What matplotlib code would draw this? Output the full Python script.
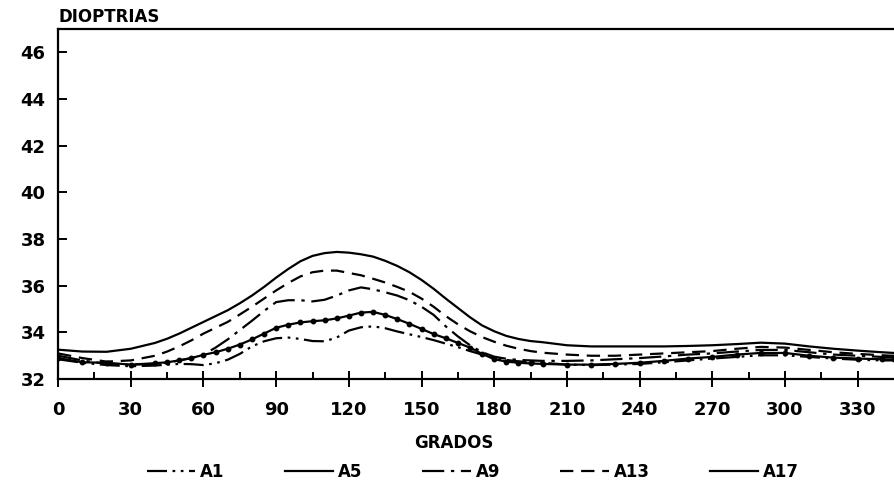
import numpy as np
import matplotlib
matplotlib.use('Agg')
import matplotlib.pyplot as plt
from matplotlib.lines import Line2D

# Degrees around the meridian: 10 deg steps on the flat parts, 5 deg on the hump
grados = [0, 10, 20, 30, 40, 45, 50, 55, 60, 65, 70, 75, 80, 85, 90, 95, 100,
          105, 110, 115, 120, 125, 130, 135, 140, 145, 150, 155, 160, 165, 170,
          175, 180, 185, 190, 195, 200, 210, 220, 230, 240, 250, 260, 270, 280,
          290, 300, 310, 320, 330, 340, 345]

a1 = [32.85, 32.70, 32.60, 32.55,
      32.58, 32.62, 32.65, 32.64, 32.60, 32.68, 32.83, 33.08, 33.40, 33.62,
      33.75, 33.78, 33.72, 33.63, 33.62, 33.78, 34.08, 34.22, 34.26, 34.18,
      34.04, 33.92, 33.80, 33.67, 33.52, 33.37, 33.20, 33.05, 32.91, 32.82,
      32.76, 32.73, 32.70,
      32.62, 32.60, 32.62, 32.65, 32.72, 32.80, 32.88, 32.95, 33.02, 33.02,
      32.95, 32.88, 32.83, 32.80, 32.80]
a5 = [32.90, 32.72, 32.70, 32.62,
      32.68, 32.72, 32.80, 32.90, 33.04, 33.15, 33.30, 33.48, 33.70, 33.95,
      34.20, 34.33, 34.43, 34.48, 34.52, 34.60, 34.72, 34.85, 34.88, 34.75,
      34.57, 34.37, 34.15, 33.93, 33.75, 33.55, 33.35, 33.08, 32.85, 32.75,
      32.70, 32.67, 32.65,
      32.62, 32.62, 32.65, 32.70, 32.78, 32.88, 32.95, 33.05, 33.12, 33.12,
      33.00, 32.92, 32.88, 32.85, 32.84]
a9 = [33.00, 32.80, 32.65, 32.62,
      32.65, 32.70, 32.80, 32.90, 33.05, 33.35, 33.70, 34.10, 34.50, 34.92,
      35.30, 35.38, 35.38, 35.33, 35.40, 35.58, 35.80, 35.93, 35.85, 35.72,
      35.58, 35.38, 35.10, 34.75, 34.26, 33.83, 33.45, 33.15, 32.96, 32.87,
      32.82, 32.80, 32.78,
      32.78, 32.80, 32.85, 32.90, 32.97, 33.05, 33.10, 33.18, 33.25, 33.25,
      33.15, 33.05, 33.00, 32.95, 32.93]
a13 = [33.10, 32.90, 32.75, 32.80,
       33.00, 33.18, 33.40, 33.66, 33.95, 34.20, 34.45, 34.77, 35.10, 35.45,
       35.80, 36.12, 36.40, 36.58, 36.65, 36.65, 36.55, 36.45, 36.30, 36.14,
       35.95, 35.74, 35.45, 35.10, 34.70, 34.35, 34.05, 33.80, 33.60, 33.43,
       33.30, 33.20, 33.13,
       33.05, 33.00, 33.00, 33.05, 33.10, 33.15, 33.20, 33.30, 33.38, 33.35,
       33.25, 33.15, 33.08, 33.02, 33.00]
a17 = [33.26, 33.18, 33.17, 33.30,
       33.55, 33.73, 33.95, 34.20, 34.45, 34.70, 34.95, 35.25, 35.58, 35.95,
       36.35, 36.72, 37.05, 37.28, 37.40, 37.45, 37.42, 37.35, 37.25, 37.07,
       36.85, 36.58, 36.25, 35.87, 35.45, 35.05, 34.65, 34.30, 34.05, 33.85,
       33.72, 33.63, 33.58,
       33.45, 33.40, 33.40, 33.40, 33.40, 33.42, 33.45, 33.50, 33.56, 33.52,
       33.40, 33.30, 33.22, 33.15, 33.12]

series_names = ['A1', 'A5', 'A9', 'A13', 'A17']
x_ticks = [0, 30, 60, 90, 120, 150, 180, 210, 240, 270, 300, 330]
y_ticks = [32, 34, 36, 38, 40, 42, 44, 46]

font = 'DejaVu Sans'

fig = plt.figure(figsize=(8.94, 4.86), dpi=100)
ax = fig.add_axes([0.065, 0.220, 0.935, 0.720])

lw = 1.6
styles = {
    'A1':  dict(color='black', lw=lw, dashes=(9, 2.5, 1.2, 2.5, 1.2, 2.5)),
    'A5':  dict(color='black', lw=lw, marker='o', markersize=3.2),
    'A9':  dict(color='black', lw=lw, dashes=(10, 3, 1.5, 3)),
    'A13': dict(color='black', lw=lw, dashes=(6, 3.5)),
    'A17': dict(color='black', lw=lw),
}

for name, vals in zip(series_names, [a1, a5, a9, a13, a17]):
    ax.plot(grados, vals, **styles[name])

ax.set_xlim(0, 345)
ax.set_ylim(32, 47)
ax.spines['right'].set_visible(False)
for s in ['left', 'bottom', 'top']:
    ax.spines[s].set_linewidth(1.6)

ax.set_xticks(x_ticks)
ax.set_xticklabels([str(v) for v in x_ticks])
ax.set_xticks([15 + 30 * k for k in range(11)], minor=True)
ax.set_yticks(y_ticks)
ax.set_yticklabels([str(v) for v in y_ticks])

ax.tick_params(axis='x', which='major', direction='inout', length=12, width=1.4,
               pad=10, labelsize=13)
ax.tick_params(axis='x', which='minor', direction='in', length=5, width=1.4)
ax.tick_params(axis='y', which='major', direction='in', length=6.5, width=1.4,
               pad=9, labelsize=13)
for lab in ax.get_xticklabels() + ax.get_yticklabels():
    lab.set_fontweight('bold')
    lab.set_family(font)

fig.text(0.065, 0.965, 'DIOPTRIAS', fontsize=12, fontweight='bold', family=font,
         ha='left', va='center')
fig.text(0.508, 0.088, 'GRADOS', fontsize=12, fontweight='bold', family=font,
         ha='center', va='center')

handles = []
for name in series_names:
    st = dict(styles[name])
    st.pop('marker', None)
    st.pop('markersize', None)
    handles.append(Line2D([], [], **st))
leg = fig.legend(handles, series_names, loc='center', bbox_to_anchor=(0.529, 0.029),
                 ncol=5, frameon=False, handlelength=2.9, handletextpad=0.3,
                 columnspacing=3.6, prop={'family': font, 'weight': 'bold', 'size': 12})

plt.savefig('out.png', dpi=100, facecolor='white')
plt.close()
